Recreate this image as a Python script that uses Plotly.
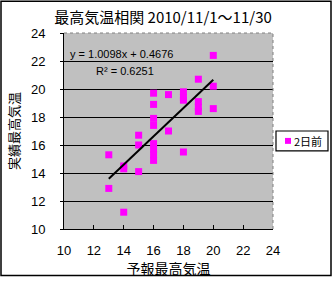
import plotly.graph_objects as go

forecast = [20, 19, 20, 20, 19, 19, 19, 18, 18, 18, 17, 16, 16, 16, 16, 17, 15, 15,
            16, 16, 16, 16, 18, 13, 14, 14, 15, 13, 14]
actual = [22.4, 20.7, 20.2, 18.6, 19.1, 18.7, 18.4, 19.8, 19.4, 19.2, 19.6, 19.7, 18.9, 17.9,
          17.4, 17.0, 16.7, 16.0, 16.1, 15.7, 15.3, 14.9, 15.5, 15.3, 14.5, 14.3, 14.1, 12.9, 11.2]
slope = 1.0098
intercept = 0.4676
r2 = 0.6251
series_name = "2日前"
title_text = "最高気温相関 2010/11/1～11/30"
x_title = "予報最高気温"
y_title = "実績最高気温"
tick_vals = [10, 12, 14, 16, 18, 20, 22, 24]

W, H = 334, 281
L, R, T, B = 64, 61, 33, 50
pw, ph = W - L - R, H - T - B
MAG = "#FF00FF"

xmin, xmax = min(forecast), max(forecast)
line_x = [xmin, xmax]
line_y = [slope * v + intercept for v in line_x]

font = "Liberation Sans, Arial, sans-serif"
jfont = "Noto Sans CJK JP, sans-serif"


def px(x):
    return (x - L) / pw


def py(y):
    return (H - B - y) / ph


fig = go.Figure()
fig.add_trace(go.Scatter(x=forecast, y=actual, mode="markers", name=series_name,
                         marker=dict(symbol="square", size=7, color=MAG, line=dict(width=0))))
fig.add_trace(go.Scatter(x=line_x, y=line_y, mode="lines", showlegend=False,
                         line=dict(color="black", width=2), hoverinfo="skip"))

fig.update_layout(
    width=W, height=H,
    margin=dict(l=L, r=R, t=T, b=B),
    paper_bgcolor="white", plot_bgcolor="#C0C0C0",
    font=dict(family=font, size=13, color="black"),
    showlegend=False,
    xaxis=dict(range=[10, 24], tickvals=tick_vals, showgrid=False, zeroline=False,
               showline=True, linecolor="black", linewidth=1, mirror=False,
               ticks="inside", ticklen=4, tickcolor="black", ticklabelstandoff=9,
               tickfont=dict(family=font, size=13),
               title=dict(text=x_title, font=dict(family=jfont, size=14), standoff=2)),
    yaxis=dict(range=[10, 24], tickvals=tick_vals, showgrid=True, gridcolor="black", gridwidth=1,
               zeroline=False, showline=True, linecolor="black", linewidth=1,
               ticks="outside", ticklen=3, tickcolor="black", ticklabelstandoff=12,
               tickfont=dict(family=font, size=13),
               title=dict(text=y_title, font=dict(family=jfont, size=13), standoff=8)),
    title=dict(text=title_text, x=163 / W, xanchor="center", y=1 - 18 / H, yanchor="middle",
               font=dict(family=jfont, size=15)),
    shapes=[
        dict(type="rect", xref="paper", yref="paper",
             x0=px(1), x1=px(W - 3), y0=py(H - 3), y1=py(1),
             line=dict(color="black", width=1.5), fillcolor="rgba(0,0,0,0)", layer="below"),
        dict(type="line", xref="paper", yref="paper", x0=0, x1=1, y0=1, y1=1,
             line=dict(color="#808080", width=1, dash="dot")),
        dict(type="line", xref="paper", yref="paper", x0=1, x1=1, y0=0, y1=1,
             line=dict(color="#808080", width=1, dash="dot")),
        # legend box
        dict(type="rect", xref="paper", yref="paper",
             x0=px(276), x1=px(328), y0=py(152), y1=py(132),
             line=dict(color="black", width=1.2), fillcolor="white"),
        dict(type="rect", xref="paper", yref="paper",
             x0=px(285), x1=px(291), y0=py(145), y1=py(139),
             line=dict(width=0), fillcolor=MAG),
    ],
    annotations=[
        dict(text=f"y = {slope:.4f}x + {intercept:.4f}", xref="paper", yref="paper",
             x=px(68), y=py(54), xanchor="left", yanchor="middle",
             showarrow=False, font=dict(family=font, size=11)),
        dict(text=f"R² = {r2:.4f}", xref="paper", yref="paper",
             x=px(94), y=py(71), xanchor="left", yanchor="middle",
             showarrow=False, font=dict(family=font, size=11)),
        dict(text=series_name, xref="paper", yref="paper",
             x=px(292), y=py(142), xanchor="left", yanchor="middle",
             showarrow=False, font=dict(family=jfont, size=11)),
    ],
)

fig.write_html("out.html")
